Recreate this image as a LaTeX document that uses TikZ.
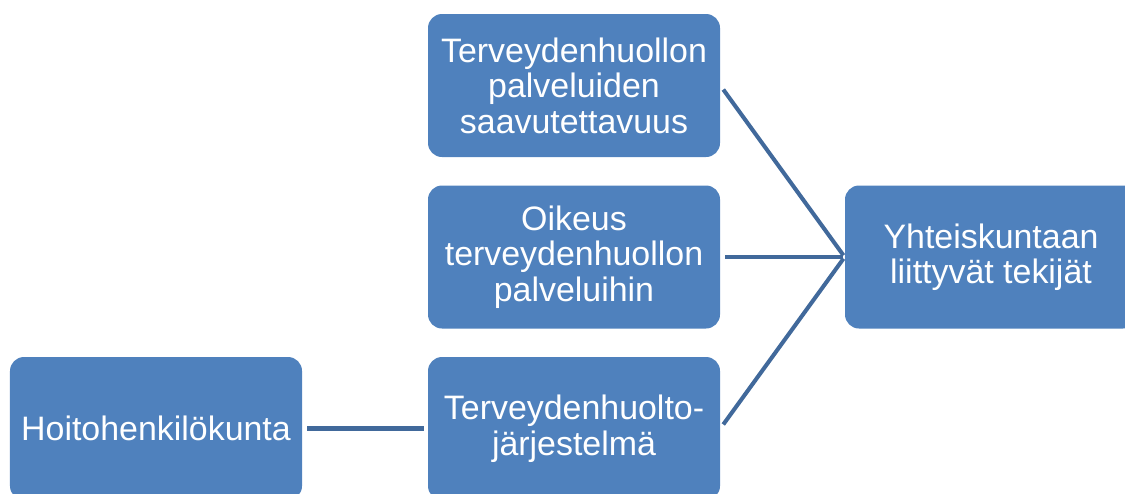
\documentclass[tikz,border=0pt]{standalone}
\usepackage{fontspec}
\setmainfont{Liberation Sans}
\definecolor{boxblue}{HTML}{4F81BD}
\definecolor{lineblue}{HTML}{41699B}

\begin{document}
\begin{tikzpicture}[
  factor/.style={draw=none,fill=boxblue,rounded corners=0.28cm,
    minimum width=5.84cm,minimum height=2.86cm,inner sep=0pt,
    text=white,align=center,font=\fontsize{19.3pt}{20.2pt}\selectfont},
  link/.style={draw=lineblue,line width=2.3pt,shorten <=0.1cm,shorten >=0.04cm}]
\useasboundingbox (0,0) rectangle (22.5,9.86);
\node[factor] (access) at (11.48,8.15) {Terveydenhuollon\\palveluiden\\saavutettavuus};
\node[factor] (right) at (11.48,4.72) {Oikeus\\terveydenhuollon\\palveluihin};
\node[factor] (system) at (11.48,1.29) {Terveydenhuolto-\\järjestelmä};
\node[factor] (staff) at (3.12,1.29) {Hoitohenkilökunta};
\node[factor] (society) at (19.82,4.72) {Yhteiskuntaan\\liittyvät tekijät};
\draw[link] (access.east) -- (society.west);
\draw[link] (right.east) -- (society.west);
\draw[link] (system.east) -- (society.west);
\draw[link,shorten >=0.08cm] (staff.east) -- (system.west);
\end{tikzpicture}
\end{document}
